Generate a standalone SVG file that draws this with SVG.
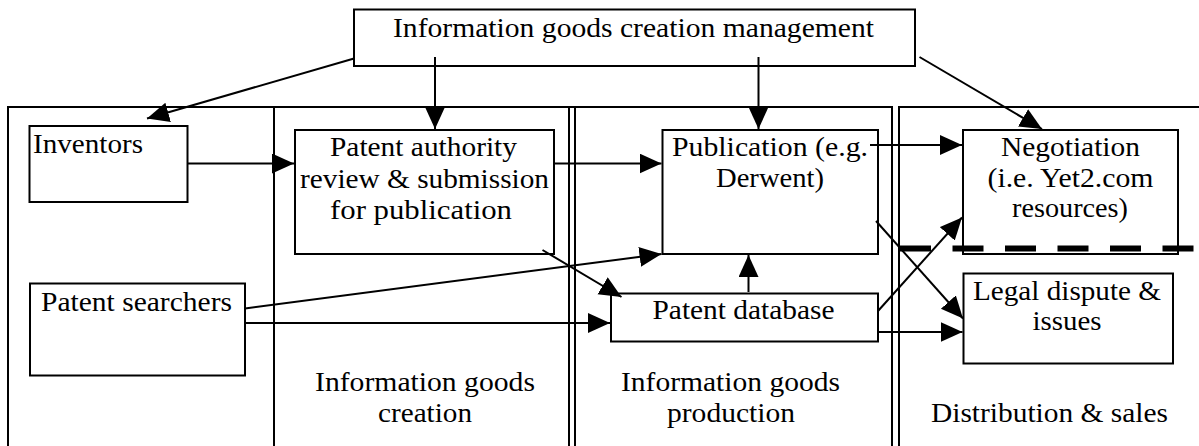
<svg xmlns="http://www.w3.org/2000/svg" width="1199" height="446" viewBox="0 0 1199 446">
<defs>
<marker id="ah" markerUnits="userSpaceOnUse" markerWidth="23" markerHeight="21" refX="22" refY="10" orient="auto" viewBox="0 0 23 21">
<path d="M0,0 L22,10 L0,20 z" fill="#000"/>
</marker>
<style>
.box{fill:#fff;stroke:#000;stroke-width:2}
.frame{fill:none;stroke:#000;stroke-width:2}
text{font-family:'Liberation Serif','Times New Roman',Times,'DejaVu Serif',serif;font-size:26.5px;fill:#000}
.c{fill:none;stroke:#000;stroke-width:2;marker-end:url(#ah)}
</style>
</defs>
<rect width="1199" height="446" fill="#fff"/>
<g id="frame">
<path class="frame" d="M8,446 V107 H892 V446 M899,446 V107 H1199 M274,107 V446 M569,107 V446 M575,107 V446"/>
</g>
<g id="lane-labels">
<text x="315" y="391" textLength="220" lengthAdjust="spacingAndGlyphs">Information goods</text>
<text x="378" y="422" textLength="94" lengthAdjust="spacingAndGlyphs">creation</text>
<text x="621" y="391" textLength="219" lengthAdjust="spacingAndGlyphs">Information goods</text>
<text x="667" y="422" textLength="128" lengthAdjust="spacingAndGlyphs">production</text>
<text x="931" y="422" textLength="237" lengthAdjust="spacingAndGlyphs">Distribution &amp; sales</text>
</g>
<g id="management">
<rect class="box" x="354" y="9.5" width="561" height="56.5"/>
<text x="393" y="37" textLength="481" lengthAdjust="spacingAndGlyphs">Information goods creation management</text>
</g>
<g id="inventors">
<rect class="box" x="29.5" y="126" width="158" height="76"/>
<text x="33" y="153" textLength="110" lengthAdjust="spacingAndGlyphs">Inventors</text>
</g>
<g id="patent-authority">
<rect class="box" x="295" y="130" width="259" height="124"/>
<text x="330" y="156" textLength="187" lengthAdjust="spacingAndGlyphs">Patent authority</text>
<text x="300" y="187.5" textLength="249" lengthAdjust="spacingAndGlyphs">review &amp; submission</text>
<text x="330" y="218.5" textLength="182" lengthAdjust="spacingAndGlyphs">for publication</text>
</g>
<g id="patent-searchers">
<rect class="box" x="30" y="283.5" width="215" height="92"/>
<text x="41" y="311" textLength="191" lengthAdjust="spacingAndGlyphs">Patent searchers</text>
</g>
<g id="publication">
<rect class="box" x="662.5" y="130" width="215.5" height="124"/>
<text x="672" y="156" textLength="196" lengthAdjust="spacingAndGlyphs">Publication (e.g.</text>
<text x="716" y="187" textLength="108" lengthAdjust="spacingAndGlyphs">Derwent)</text>
</g>
<g id="patent-database">
<rect class="box" x="611" y="293.5" width="267" height="48"/>
<text x="652.5" y="319" textLength="182" lengthAdjust="spacingAndGlyphs">Patent database</text>
</g>
<g id="negotiation">
<rect class="box" x="963" y="130" width="215" height="124"/>
<text x="1001" y="156" textLength="139" lengthAdjust="spacingAndGlyphs">Negotiation</text>
<text x="987.5" y="187" textLength="166" lengthAdjust="spacingAndGlyphs">(i.e. Yet2.com</text>
<text x="1012" y="217" textLength="116" lengthAdjust="spacingAndGlyphs">resources)</text>
</g>
<g id="legal-dispute">
<rect class="box" x="963.5" y="273.5" width="209.5" height="90"/>
<text x="973" y="300" textLength="188" lengthAdjust="spacingAndGlyphs">Legal dispute &amp;</text>
<text x="1032.5" y="330" textLength="69" lengthAdjust="spacingAndGlyphs">issues</text>
</g>
<g id="divider">
<line x1="900" y1="248.5" x2="1196" y2="248.5" stroke="#000" stroke-width="6" stroke-dasharray="31 21.5"/>
</g>
<g id="connectors">
<line class="c" x1="354" y1="58.5" x2="147" y2="118.5"/>
<line class="c" x1="435" y1="57" x2="435" y2="129"/>
<line class="c" x1="758.5" y1="57" x2="758.5" y2="129"/>
<line class="c" x1="919.5" y1="57" x2="1042" y2="129"/>
<line class="c" x1="187.5" y1="163.5" x2="294" y2="163.5"/>
<line class="c" x1="554" y1="163.5" x2="661.5" y2="163.5"/>
<line class="c" x1="870" y1="145" x2="962" y2="145"/>
<line class="c" x1="542.5" y1="250" x2="621.5" y2="297"/>
<line class="c" x1="245" y1="308.5" x2="661.5" y2="254"/>
<line class="c" x1="245" y1="323" x2="610" y2="323"/>
<line class="c" x1="748.5" y1="292" x2="748.5" y2="255"/>
<line class="c" x1="876" y1="221" x2="963" y2="318.5"/>
<line class="c" x1="878" y1="311" x2="962" y2="217.5"/>
<line class="c" x1="878" y1="332" x2="962.5" y2="332"/>
</g>
</svg>
